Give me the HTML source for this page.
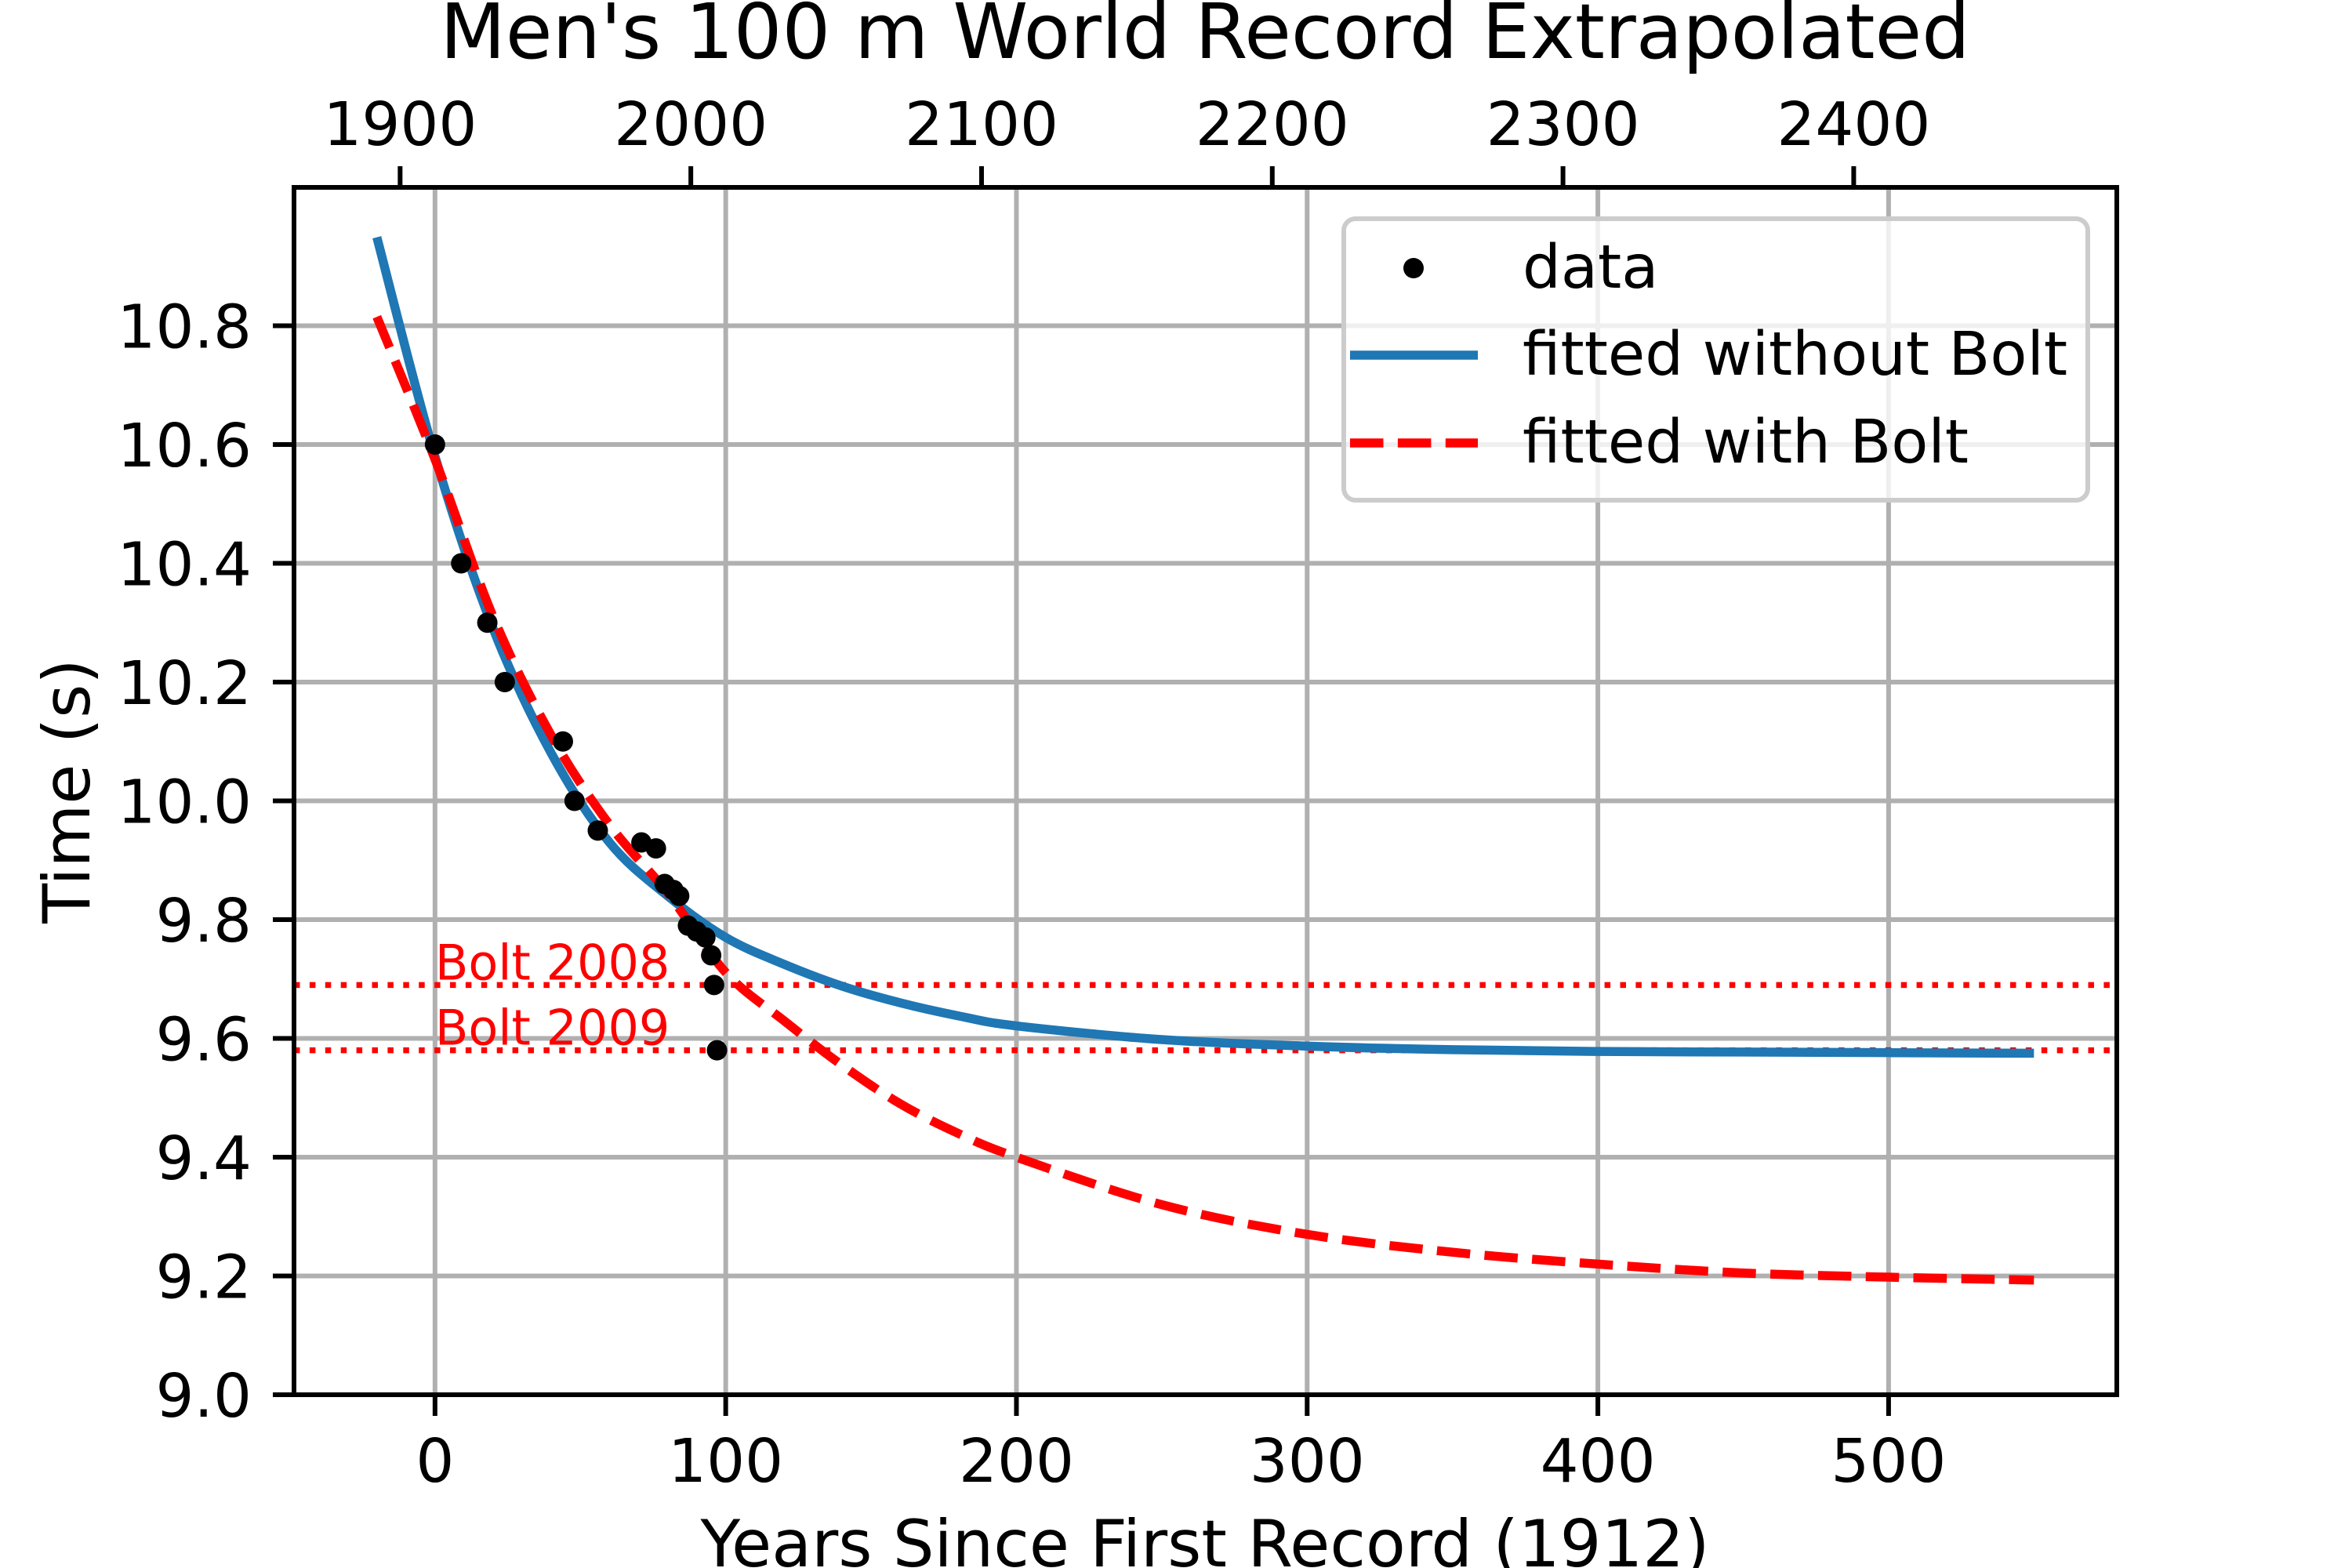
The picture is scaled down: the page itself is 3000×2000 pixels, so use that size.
<!DOCTYPE html>
<html><head><meta charset="utf-8"><style>
html,body{margin:0;padding:0;background:#fff}
svg{display:block}
text{font-family:"DejaVu Sans","Liberation Sans",sans-serif}
</style></head><body>
<svg id="chart" width="3000" height="2000" viewBox="0 0 3000 2000" xmlns="http://www.w3.org/2000/svg">
<rect x="0" y="0" width="3000" height="2000" fill="#fff"/>
<g id="grid"></g>
<g id="plot"></g>
<g id="axes"></g>
<text x="1537" y="74" font-size="97" text-anchor="middle">Men's 100 m World Record Extrapolated</text>
<text x="1537" y="1998" font-size="83" text-anchor="middle">Years Since First Record (1912)</text>
<text x="0" y="0" font-size="83" text-anchor="middle" transform="translate(114,1009) rotate(-90)">Time (s)</text>
<g id="legend">
  <rect x="1714" y="279" width="949" height="359" rx="15" fill="#fff" fill-opacity="0.8" stroke="#cccccc" stroke-width="6"/>
  <circle cx="1803" cy="342" r="13" fill="#000"/>
  <text x="1942" y="367" font-size="77">data</text>
  <line x1="1722" y1="453" x2="1885" y2="453" stroke="#1f77b4" stroke-width="11.5"/>
  <text x="1942" y="478" font-size="77">fitted without Bolt</text>
  <line x1="1722" y1="565" x2="1885" y2="565" stroke="#ff0000" stroke-width="11.5" stroke-dasharray="42.5 18.4"/>
  <text x="1942" y="590" font-size="77">fitted with Bolt</text>
</g>
</svg>
<script>
const dataYears = [0, 9, 18, 24, 44, 48, 56, 71, 76, 79, 82, 84, 87, 90, 93, 95, 96, 97];
const dataTimes = [10.6, 10.4, 10.3, 10.2, 10.1, 10.0, 9.95, 9.93, 9.92, 9.86, 9.85, 9.84, 9.79, 9.78, 9.77, 9.74, 9.69, 9.58];
const curveX = [-20, 0, 20, 40, 60, 80, 100, 120, 140, 160, 180, 200, 250, 300, 350, 400, 450, 500, 550];
const blueY = [10.949, 10.58, 10.29, 10.08, 9.93, 9.84, 9.77, 9.725, 9.688, 9.66, 9.638, 9.621, 9.598, 9.587, 9.581, 9.578, 9.577, 9.576, 9.575];
const redY = [10.815, 10.575, 10.31, 10.11, 9.96, 9.845, 9.711, 9.63, 9.555, 9.49, 9.44, 9.40, 9.32, 9.27, 9.24, 9.22, 9.205, 9.198, 9.193];
const boltTimes = [9.69, 9.58];
const boltLabels = ['Bolt 2008', 'Bolt 2009'];
const xTicks = [0, 100, 200, 300, 400, 500];
const yTicks = [9.0, 9.2, 9.4, 9.6, 9.8, 10.0, 10.2, 10.4, 10.6, 10.8];
const topTicks = [1900, 2000, 2100, 2200, 2300, 2400];
const firstYear = 1912;

const L = 375, R = 2700, T = 239, B = 1779;
const xMin = -48.5, xMax = 578.5, yMin = 9.0, yMax = 11.033;
const sx = v => L + (v - xMin) / (xMax - xMin) * (R - L);
const sy = v => B - (v - yMin) / (yMax - yMin) * (B - T);
const NS = 'http://www.w3.org/2000/svg';
function mk(tag, attrs, parent) {
  const e = document.createElementNS(NS, tag);
  for (const k in attrs) e.setAttribute(k, attrs[k]);
  parent.appendChild(e);
  return e;
}
const grid = document.getElementById('grid');
const plot = document.getElementById('plot');
const axes = document.getElementById('axes');

xTicks.forEach(v => {
  const g = mk('line', {x1: sx(v), x2: sx(v), y1: T, y2: B, stroke: '#b0b0b0', 'stroke-width': 6}, grid);
  
  
  const t = mk('line', {x1: sx(v), x2: sx(v), y1: B, y2: B + 27, stroke: '#000', 'stroke-width': 6}, axes);
  
  
  const lb = mk('text', {x: sx(v), y: 1890, 'font-size': 77, 'text-anchor': 'middle'}, axes);
  lb.textContent = String(v);
  
  
});
yTicks.forEach(v => {
  const g = mk('line', {x1: L, x2: R, y1: sy(v), y2: sy(v), stroke: '#b0b0b0', 'stroke-width': 6}, grid);
  
  
  const t = mk('line', {x1: L - 27, x2: L, y1: sy(v), y2: sy(v), stroke: '#000', 'stroke-width': 6}, axes);
  
  
  const lb = mk('text', {x: 321, y: sy(v) + 28, 'font-size': 77, 'text-anchor': 'end'}, axes);
  lb.textContent = v.toFixed(1);
  
  
});
topTicks.forEach(v => {
  const x = sx(v - firstYear);
  const t = mk('line', {x1: x, x2: x, y1: T - 27, y2: T, stroke: '#000', 'stroke-width': 6}, axes);
  
  
  const lb = mk('text', {x: x, y: 185, 'font-size': 77, 'text-anchor': 'middle'}, axes);
  lb.textContent = String(v);
  
  
});

function smoothPath(xs, ys) {
  const p = xs.map((x, i) => [sx(x), sy(ys[i])]);
  let d = 'M' + p[0][0] + ',' + p[0][1];
  for (let i = 0; i < p.length - 1; i++) {
    const p0 = p[i - 1] || p[i], p1 = p[i], p2 = p[i + 1], p3 = p[i + 2] || p2;
    const c1 = [p1[0] + (p2[0] - p0[0]) / 6, p1[1] + (p2[1] - p0[1]) / 6];
    const c2 = [p2[0] - (p3[0] - p1[0]) / 6, p2[1] - (p3[1] - p1[1]) / 6];
    d += ' C' + c1[0] + ',' + c1[1] + ' ' + c2[0] + ',' + c2[1] + ' ' + p2[0] + ',' + p2[1];
  }
  return d;
}

boltTimes.forEach((v, i) => {
  const ln = mk('line', {x1: L, x2: R, y1: sy(v), y2: sy(v), stroke: '#ff0000', 'stroke-width': 7.5, 'stroke-dasharray': '7.5 12.4'}, plot);
  
  
  const tx = mk('text', {x: sx(0), y: sy(v) - 7, 'font-size': 62, fill: '#ff0000'}, plot);
  tx.textContent = boltLabels[i];
  
  
});

const blue = mk('path', {d: smoothPath(curveX, blueY), fill: 'none', stroke: '#1f77b4', 'stroke-width': 11.5}, plot);


const red = mk('path', {d: smoothPath(curveX, redY), fill: 'none', stroke: '#ff0000', 'stroke-width': 11.5, 'stroke-dasharray': '42.5 18.4'}, plot);



dataYears.forEach((x, i) => {
  const c = mk('circle', {cx: sx(x), cy: sy(dataTimes[i]), r: 13, fill: '#000'}, plot);
  
  
});

const frame = mk('rect', {x: L, y: T, width: R - L, height: B - T, fill: 'none', stroke: '#000', 'stroke-width': 6}, axes);


</script>
</body></html>
